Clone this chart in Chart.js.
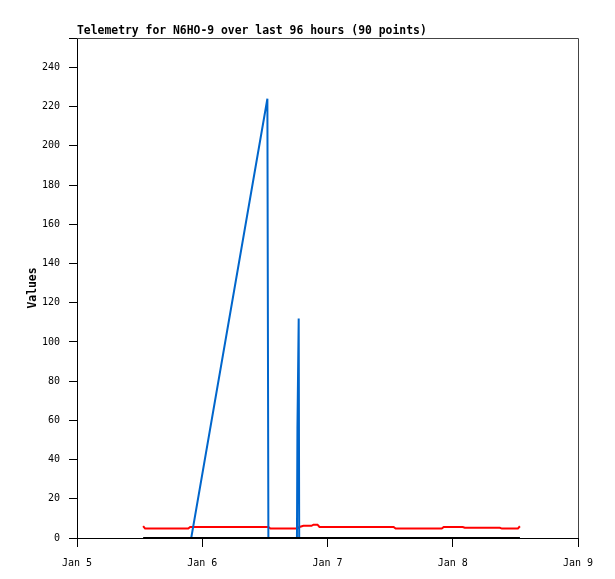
<!DOCTYPE html>
<html>
<head>
<meta charset="utf-8">
<script src="https://cdn.jsdelivr.net/npm/chart.js@4.4.0/dist/chart.umd.min.js"></script>
<style>
  html, body { margin: 0; padding: 0; background: #fff; }
  #wrap { width: 615px; height: 579px; }
</style>
</head>
<body>
<div id="wrap"><canvas id="telemetry"></canvas></div>
<script>
// time is in days since Jan 5 00:00
var dayLabels = ['Jan 5', 'Jan 6', 'Jan 7', 'Jan 8', 'Jan 9'];

var redTimes  = [0.528, 0.544, 0.888, 0.904, 1.528, 1.544, 1.760, 1.776, 1.808, 1.872, 1.888, 1.920, 1.936, 2.528, 2.544, 2.912, 2.928, 3.080, 3.096, 3.376, 3.392, 3.520, 3.536];
var redValues = [6.1,   4.8,   4.8,   5.6,   5.6,   4.8,   4.8,   5.6,   6.2,   6.2,   6.8,   6.8,   5.6,   5.6,   4.8,   4.8,   5.6,   5.6,   5.2,   5.2,   4.8,   4.8,   6.0];

var blueTimes  = [0.912, 1.520, 1.528, 1.756, 1.760, 1.770, 1.774, 3.536];
var blueValues = [0,     224,   0,     0,     56,    112,   0,     0];

var blackTimes  = [0.528, 3.536];
var blackValues = [0, 0];

function pts(xs, ys) {
  return xs.map(function(x, i) { return { x: x, y: ys[i] }; });
}

var frame = {
  id: 'frame',
  afterDraw: function(chart) {
    var a = chart.chartArea, c = chart.ctx;
    c.save();
    c.strokeStyle = '#444';
    c.lineWidth = 1;
    c.beginPath();
    c.moveTo(a.left, a.top + 0.5);
    c.lineTo(a.right + 0.5, a.top + 0.5);
    c.lineTo(a.right + 0.5, a.bottom);
    c.stroke();
    c.restore();
  }
};

var mono = '"DejaVu Sans Mono", "Liberation Mono", monospace';

new Chart(document.getElementById('telemetry').getContext('2d'), {
  type: 'line',
  data: {
    datasets: [
      { data: pts(blackTimes, blackValues), borderColor: '#000', borderWidth: 2, order: 0 },
      { data: pts(blueTimes, blueValues), borderColor: '#0066cc', borderWidth: 2, order: 1 },
      { data: pts(redTimes, redValues), borderColor: '#ff0000', borderWidth: 2, order: 2 }
    ]
  },
  options: {
    responsive: true,
    maintainAspectRatio: false,
    animation: false,
    layout: { padding: { left: 0, right: 37, top: 0, bottom: 0 } },
    elements: { point: { radius: 0 }, line: { tension: 0 } },
    plugins: {
      legend: { display: false },
      tooltip: { enabled: false },
      title: {
        display: true,
        text: 'Telemetry for N6HO-9 over last 96 hours (90 points)',
        align: 'start',
        fullSize: false,
        color: '#000',
        font: { family: mono, size: 11.4, weight: 'bold', lineHeight: 1 },
        padding: { top: 25.3, bottom: 1.3 }
      }
    },
    scales: {
      x: {
        type: 'linear',
        min: 0,
        max: 4,
        afterFit: function(s) { s.height = 41; },
        ticks: {
          stepSize: 1,
          color: '#000',
          padding: 10,
          maxRotation: 0,
          font: { family: mono, size: 10 },
          callback: function(v) { return dayLabels[v]; }
        },
        grid: { drawOnChartArea: false, tickLength: 9, color: '#000' },
        border: { color: '#000', width: 1 }
      },
      y: {
        min: 0,
        max: 255,
        afterFit: function(s) { s.width = 77; },
        ticks: {
          stepSize: 20,
          color: '#000',
          padding: 9,
          font: { family: mono, size: 10 },
          callback: function(v) { return v <= 240 ? v : ''; }
        },
        grid: { drawOnChartArea: false, tickLength: 8, color: '#000' },
        border: { color: '#000', width: 1 },
        title: {
          display: true,
          text: 'Values',
          color: '#000',
          font: { family: mono, size: 11.4, weight: 'bold' },
          padding: { top: 26, bottom: 0 }
        }
      }
    }
  },
  plugins: [frame]
});
</script>
</body>
</html>
